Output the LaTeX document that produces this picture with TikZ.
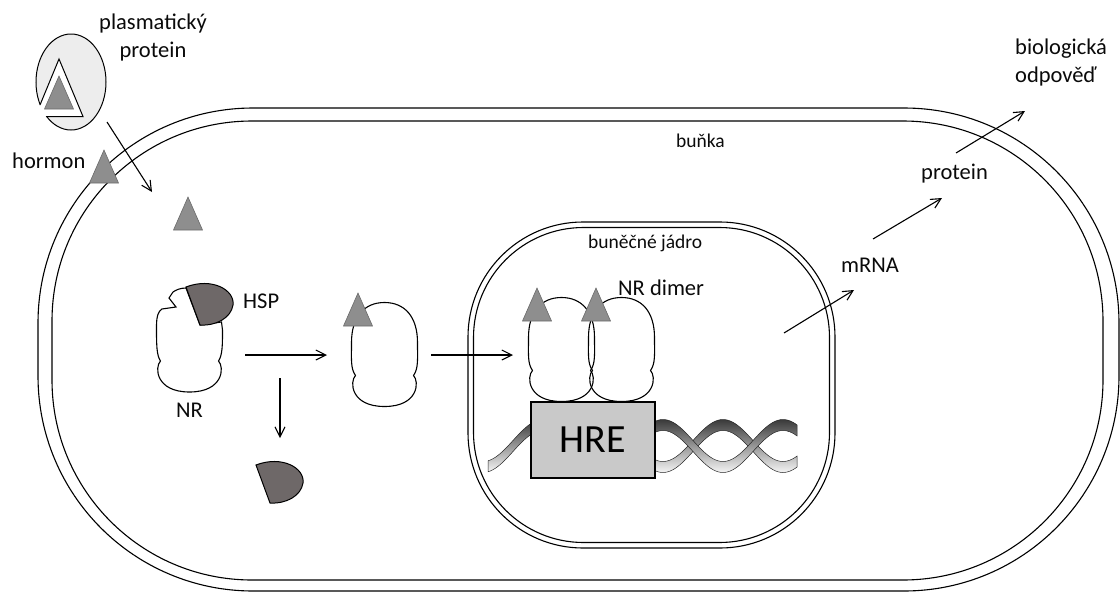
\documentclass[tikz,border=0pt]{standalone}
\usepackage{fontspec}
\setmainfont{Carlito}
\usetikzlibrary{arrows.meta}

\definecolor{ligandgray}{HTML}{8E8E8E}
\definecolor{ligandedge}{HTML}{6A6A6A}
\definecolor{hspgray}{HTML}{6E6868}
\definecolor{carrier}{HTML}{EDEDED}
\definecolor{hregray}{HTML}{C9C9C9}
\definecolor{ink}{HTML}{0A0A0A}

\tikzset{
  lbl/.style={inner sep=0pt, text=ink, font=\fontsize{22.5}{28}\selectfont},
  smalllbl/.style={inner sep=0pt, text=ink, font=\fontsize{19.5}{24}\selectfont},
  membrane/.style={line width=1.1pt},
  arr/.style={line width=1.1pt, -{Straight Barb[length=10pt,width=10pt]}},
  ligand/.style={fill=ligandgray, draw=ligandedge, line width=0.6pt},
  hsp/.style={fill=hspgray, draw=black, line width=1pt},
  receptor/.style={draw=black, line width=1.1pt},
  dna/.style={top color=gray!45!black, bottom color=gray!8, draw=black!85, line width=0.5pt},
  pics/ligand/.style={code={
    \filldraw[ligand] (0,0) -- (-14.5,33) -- (14.5,33) -- cycle;
  }},
  pics/hsp/.style={code={
    \filldraw[hsp] (0,0) .. controls (26,-10) and (49,3) .. (47,18)
      .. controls (45,31) and (30,39) .. (14,38) -- cycle;
  }},
  pics/receptor/.style={code={
    \draw[receptor] (-29,21) .. controls (-34,14) and (-33,5) .. (-33,-12)
      .. controls (-33,-38) and (-20,-52) .. (0,-52)
      .. controls (20,-52) and (33,-38) .. (33,-12)
      .. controls (33,5) and (34,14) .. (29,21)
      .. controls (35,27) and (34,52) .. (0,52)
      .. controls (-34,52) and (-35,27) .. (-29,21) -- cycle;
  }},
}

\begin{document}
\begin{tikzpicture}[x=1pt, y=-1pt]
\useasboundingbox (0,0) rectangle (1120,592);

\draw[membrane, rounded corners=215pt] (38,108) rectangle (1119,591);
\draw[membrane, rounded corners=200pt] (52,121) rectangle (1103,580);

\draw[membrane, rounded corners=115pt] (468,222) rectangle (835,548);
\draw[membrane, rounded corners=110pt] (473.5,227.5) rectangle (829.5,542.5);

\shadedraw[dna] plot[domain=655:797, samples=60] (\x, {446-21*sin(3*(\x-693))-5.5})
  -- plot[domain=797:655, samples=60] (\x, {446-21*sin(3*(\x-693))+5.5}) -- cycle;
\shadedraw[dna] plot[domain=655:797, samples=60] (\x, {446+21*sin(3*(\x-693))-5.5})
  -- plot[domain=797:655, samples=60] (\x, {446+21*sin(3*(\x-693))+5.5}) -- cycle;
\shadedraw[dna] plot[domain=488:540, samples=30] (\x, {446+21*sin(3*(\x-693))-5.5})
  -- plot[domain=540:488, samples=30] (\x, {446+21*sin(3*(\x-693))+5.5}) -- cycle;

\node[draw, line width=2.5pt, fill=hregray, minimum width=124pt, minimum height=76pt,
  text=black, font=\fontsize{40}{48}\selectfont] (hre) at (593,440) {HRE};

\filldraw[line width=1pt, fill=carrier] (71,82) ellipse [x radius=35pt, y radius=48pt];
\fill[white] (59,59) -- (35,116) -- (46,116.5) -- (83,116.5) -- cycle;
\draw[line width=1pt] (40,105) -- (59,59) -- (83,116.5) -- (46,116.5);
\pic at (59,76) {ligand};

\pic at (104,150) {ligand};
\pic at (188,197) {ligand};

\filldraw[receptor, fill=white] (186,288) .. controls (180,288) and (176,290) .. (173,292)
  -- (169,298) -- (176,307) -- (162,309) .. controls (158.5,311) and (156.5,316) .. (156.5,326)
  .. controls (156.5,345) and (156.5,355) .. (160.5,361)
  .. controls (154.5,367) and (155.5,392) .. (189.5,392)
  .. controls (223.5,392) and (224.5,367) .. (218.5,361)
  .. controls (222.5,355) and (222.5,345) .. (222.5,330) -- (221.5,322) -- (200,325) -- cycle;
\pic at (186,287) {hsp};
\pic at (256,465) {hsp};

\pic at (384.5,354.5) {receptor};
\pic at (358,293) {ligand};

\pic at (561.5,349.5) {receptor};
\pic at (621.5,349.5) {receptor};
\pic at (537,288) {ligand};
\pic at (596,288) {ligand};

\node[lbl, anchor=north, align=center] (plasma) at (153,14) {plasmatický\\protein};
\node[lbl, anchor=base west] (hormon) at (12,168) {hormon};
\node[lbl, anchor=base west] (hsplbl) at (243,308) {HSP};
\node[lbl, anchor=base west] (nr) at (176,417) {NR};
\node[smalllbl, anchor=base west] (cell) at (676,147) {buňka};
\node[smalllbl, anchor=base west] (nucleus) at (588,248) {buněčné jádro};
\node[lbl, anchor=base west] (dimer) at (618,295) {NR dimer};
\node[lbl, anchor=base west] (mrna) at (841,272) {mRNA};
\node[lbl, anchor=base west] (protein) at (921,179) {protein};
\node[lbl, anchor=north west, align=left] (response) at (1015,39) {biologická\\odpověď};

\coordinate (release) at (107,122);
\coordinate (entry) at (152,192);
\coordinate (nr-free) at (245,355);
\coordinate (nr-bound) at (327,355);
\coordinate (hsp-off) at (280,378);
\coordinate (hsp-away) at (280,438);
\coordinate (nr-act) at (431,355);
\coordinate (nr-pair) at (513,355);
\coordinate (transcr) at (784,333);
\coordinate (mrna-in) at (854,290);
\coordinate (transl) at (873,239);
\coordinate (prot-in) at (942,198);
\coordinate (effect) at (956,153);
\coordinate (resp-in) at (1025,111);

\draw[arr] (release) -- (entry);
\draw[arr] (nr-free) -- (nr-bound);
\draw[arr] (hsp-off) -- (hsp-away);
\draw[arr] (nr-act) -- (nr-pair);
\draw[arr] (transcr) -- (mrna-in);
\draw[arr] (transl) -- (prot-in);
\draw[arr] (effect) -- (resp-in);
\end{tikzpicture}
\end{document}
